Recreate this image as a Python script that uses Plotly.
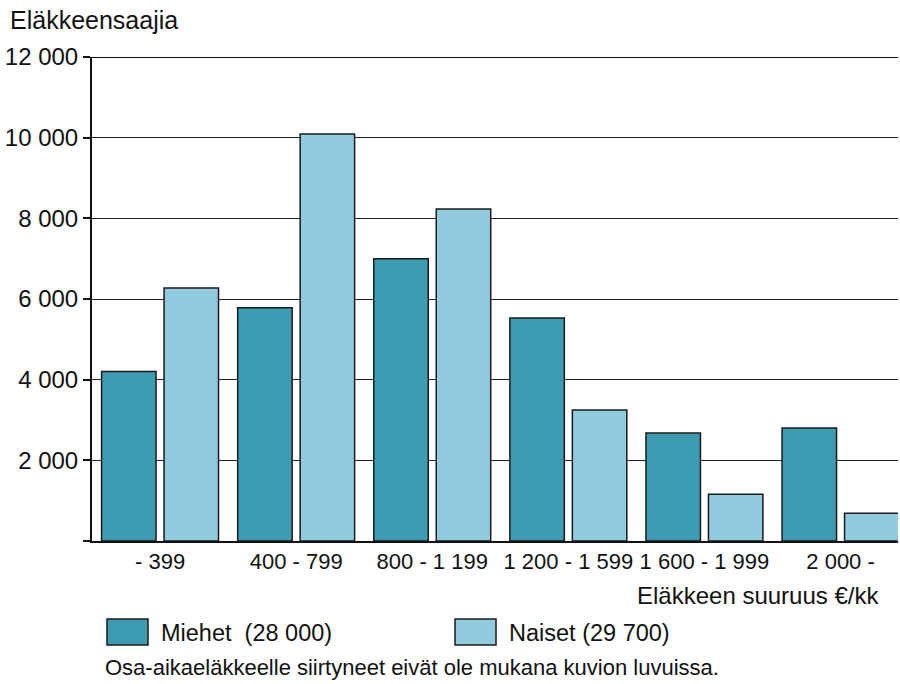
import plotly.graph_objects as go

categories = ["- 399", "400 - 799", "800 - 1 199", "1 200 - 1 599", "1 600 - 1 999", "2 000 -"]
miehet = [4200, 5780, 7000, 5530, 2680, 2800]
naiset = [6270, 10090, 8230, 3250, 1160, 690]
series_names = ["Miehet  (28 000)", "Naiset (29 700)"]
tick_vals = [0, 2000, 4000, 6000, 8000, 10000, 12000]
tick_text = ["", "2 000", "4 000", "6 000", "8 000", "10 000", "12 000"]

c_m = "#3d9bb2"
c_n = "#90cbe0"
font = "Liberation Sans, Arial, sans-serif"

L, R, T, B = 92, 2, 57, 143
PW, PH = 900 - L - R, 684 - T - B

def px(x):
    return (x - L) / PW

def py(y):
    return (684 - B - y) / PH

fig = go.Figure()
fig.add_trace(go.Bar(x=categories, y=miehet, name=series_names[0], marker=dict(color=c_m, line=dict(color="#1a1a1a", width=1.5))))
fig.add_trace(go.Bar(x=categories, y=naiset, name=series_names[1], marker=dict(color=c_n, line=dict(color="#1a1a1a", width=1.5))))

fig.update_layout(
    width=900, height=684,
    margin=dict(l=L, r=R, t=T, b=B, autoexpand=False),
    paper_bgcolor="white", plot_bgcolor="white",
    barmode="group", bargap=0.082, bargroupgap=0.128,
    showlegend=False,
    font=dict(family=font, color="#111", size=22),
)
fig.update_xaxes(showline=True, linecolor="#111", linewidth=2, ticks="", showgrid=False,
                 tickfont=dict(size=22), range=[-0.5, -0.5 + PW / 136.1], automargin=False)
fig.update_yaxes(range=[0, 12000], tickvals=tick_vals, ticktext=tick_text, showgrid=True,
                 gridcolor="#222", gridwidth=1, showline=True, linecolor="#111", linewidth=2,
                 ticks="outside", ticklen=7, tickcolor="#111", tickwidth=1.5,
                 tickfont=dict(size=24), zeroline=False, automargin=False)

fig.add_shape(type="line", xref="paper", yref="y", x0=0, x1=1, y0=12000, y1=12000,
              line=dict(color="#111", width=2))

fig.add_annotation(text="Eläkkeensaajia", xref="paper", yref="paper", x=px(8), y=py(20),
                   xanchor="left", yanchor="middle", showarrow=False, font=dict(size=25))
fig.add_annotation(text="Eläkkeen suuruus €/kk", xref="paper", yref="paper", x=px(881), y=py(595),
                   xanchor="right", yanchor="middle", showarrow=False, font=dict(size=24))

for name, col, x0 in [(series_names[0], c_m, 107), (series_names[1], c_n, 455)]:
    fig.add_shape(type="rect", xref="paper", yref="paper",
                  x0=px(x0), x1=px(x0 + 41), y0=py(645), y1=py(619),
                  fillcolor=col, line=dict(color="#1a1a1a", width=1.5))
    fig.add_annotation(text=name, xref="paper", yref="paper", x=px(x0 + 52),
                       y=py(633), xanchor="left", yanchor="middle", showarrow=False,
                       font=dict(size=23.5))

fig.add_annotation(text="Osa-aikaeläkkeelle siirtyneet eivät ole mukana kuvion luvuissa.",
                   xref="paper", yref="paper", x=px(103), y=py(667),
                   xanchor="left", yanchor="middle", showarrow=False,
                   font=dict(size=22))

fig.write_html("out.html", config={"displayModeBar": False},
               post_script="document.body.style.margin='0';document.body.style.overflow='hidden';")
